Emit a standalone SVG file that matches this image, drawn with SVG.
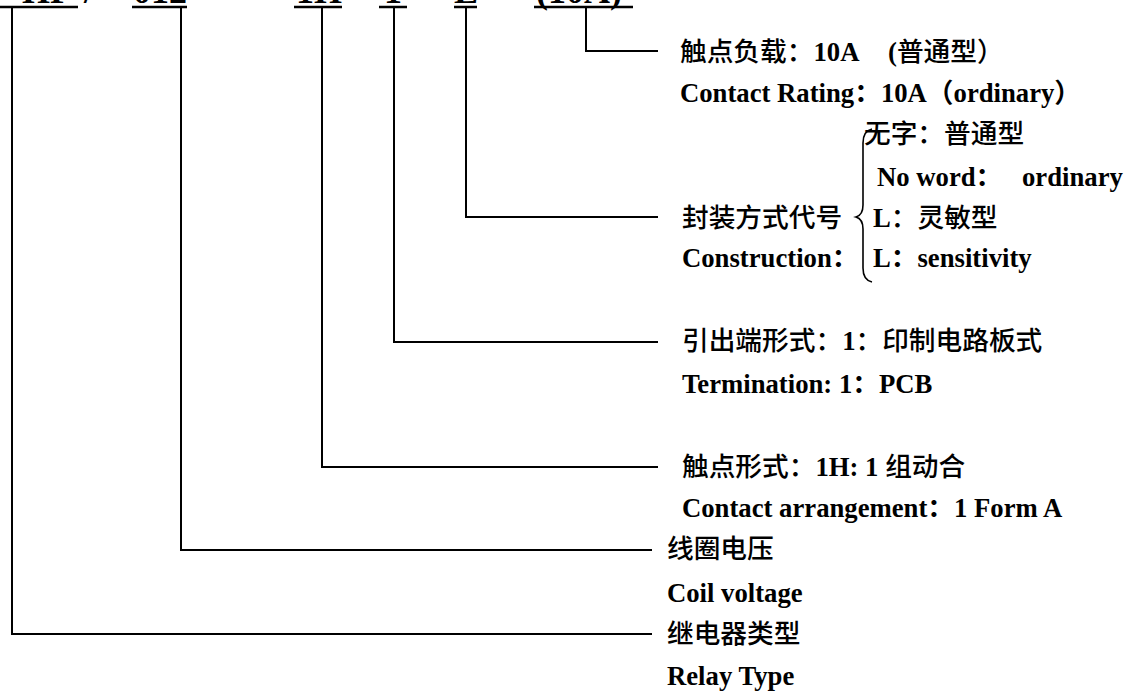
<svg xmlns="http://www.w3.org/2000/svg" width="1128" height="691" viewBox="0 0 1128 691">
<style>
.t{font-family:"Liberation Serif","Noto Sans CJK SC",serif;font-size:26.7px;font-weight:bold;fill:#000}
.zh{font-family:"Noto Sans CJK SC",sans-serif;font-weight:500}
.top{font-family:"Liberation Serif",serif;font-size:36px;font-weight:bold;fill:#000}
.ln{stroke:#000;stroke-width:2;fill:none}
.ul{stroke:#000;stroke-width:2.4;fill:none}
</style>
<rect width="1128" height="691" fill="#fff"/>
<g id="code">
  <text class="top" x="72" y="3" text-anchor="end">HF</text>
  <text class="top" x="84" y="3">/</text>
  <text class="top" x="133" y="3">012</text>
  <text class="top" x="296" y="3">1H</text>
  <text class="top" x="384" y="3">1</text>
  <text class="top" x="454" y="3">L</text>
  <text class="top" x="536" y="3">(10A)</text>
  <path class="ul" d="M0 7H78M132 7H187M294 7H342M379 7H407M454 7H477M534 7H633"/>
</g>
<g id="connectors">
  <path class="ln" d="M12 8V634H652"/>
  <path class="ln" d="M181 8V550H652"/>
  <path class="ln" d="M322 8V467H658"/>
  <path class="ln" d="M394 8V342H658"/>
  <path class="ln" d="M466 8V217H658"/>
  <path class="ln" d="M586 8V51H658"/>
</g>
<g id="rating">
  <text class="t" x="680" y="61"><tspan class="zh">触点负载：</tspan>10A<tspan x="888">(</tspan><tspan class="zh">普通型）</tspan></text>
  <text class="t" x="680" y="102">Contact Rating：10A（ordinary）</text>
</g>
<g id="construction">
  <text class="t" x="682" y="227"><tspan class="zh">封装方式代号</tspan></text>
  <text class="t" x="682" y="267">Construction：</text>
  <path class="ln" style="stroke-width:1.6" d="M872 129Q863 131 863 143V205Q863 215 856 217Q863 219 863 229V268Q863 280 872 282"/>
  <text class="t" x="864" y="143"><tspan class="zh">无字：普通型</tspan></text>
  <text class="t" x="877" y="186">No word：<tspan x="1022">ordinary</tspan></text>
  <text class="t" x="873" y="227">L<tspan class="zh">：灵敏型</tspan></text>
  <text class="t" x="873" y="267">L：sensitivity</text>
</g>
<g id="termination">
  <text class="t" x="682" y="350"><tspan class="zh">引出端形式：</tspan>1<tspan class="zh">：印制电路板式</tspan></text>
  <text class="t" x="682" y="393">Termination: 1：PCB</text>
</g>
<g id="arrangement">
  <text class="t" x="682" y="476"><tspan class="zh">触点形式：</tspan>1H: 1 <tspan class="zh">组动合</tspan></text>
  <text class="t" x="682" y="517">Contact arrangement：1 Form A</text>
</g>
<g id="coil">
  <text class="t" x="667" y="558"><tspan class="zh">线圈电压</tspan></text>
  <text class="t" x="667" y="602">Coil voltage</text>
</g>
<g id="relay">
  <text class="t" x="667" y="643"><tspan class="zh">继电器类型</tspan></text>
  <text class="t" x="667" y="685">Relay Type</text>
</g>
</svg>
